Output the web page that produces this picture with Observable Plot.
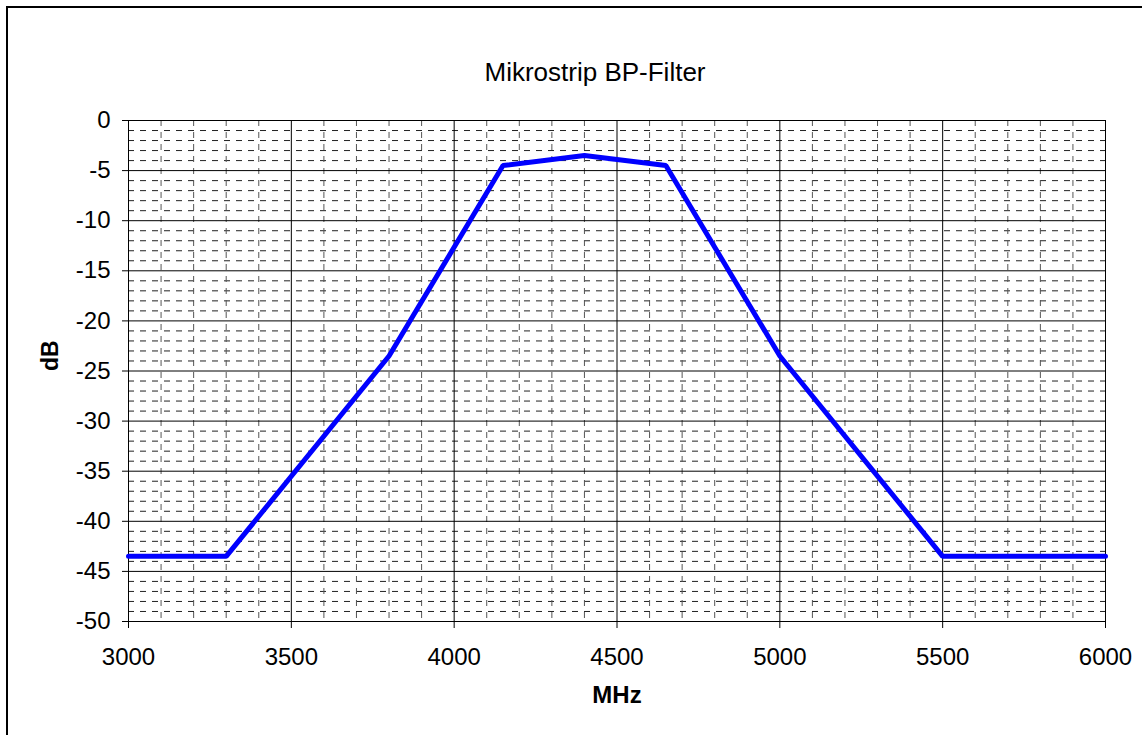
<!DOCTYPE html>
<html>
<head>
<meta charset="utf-8">
<script src="https://cdn.jsdelivr.net/npm/d3@7"></script>
<script src="https://cdn.jsdelivr.net/npm/@observablehq/plot@0.6"></script>
<style>
  html, body { margin: 0; padding: 0; background: #fff; overflow: hidden; }
  #wrap { position: relative; width: 1142px; height: 735px; overflow: hidden; }
  #frame { position: absolute; left: 6px; top: 6px; width: 1300px; height: 900px; border: 2px solid #000; box-sizing: border-box; }
  #chart { position: absolute; left: 0; top: 0; }
  svg { font-family: "Liberation Sans", Arial, sans-serif; }
</style>
</head>
<body>
<div id="wrap"><div id="frame"></div><div id="chart"></div></div>
<script>
const title = "Mikrostrip BP-Filter";
const xLabel = "MHz";
const yLabel = "dB";
const freqMHz = [3000, 3300, 3800, 4150, 4400, 4650, 5000, 5500, 6000];
const gainDB = [-43.5, -43.5, -23.5, -4.5, -3.5, -4.5, -23.5, -43.5, -43.5];
const xTicks = [3000, 3500, 4000, 4500, 5000, 5500, 6000];
const yTicks = [0, -5, -10, -15, -20, -25, -30, -35, -40, -45, -50];

const data = freqMHz.map((f, i) => ({f, g: gainDB[i]}));
const xMinor = d3.range(3100, 6000, 100).filter(v => v % 500 !== 0);
const yMinor = d3.range(-49, 0, 1).filter(v => v % 5 !== 0);

const chart = Plot.plot({
  width: 1142,
  height: 735,
  marginLeft: 128,
  marginRight: 37,
  marginTop: 120,
  marginBottom: 114,
  style: {fontFamily: "'Liberation Sans', Arial, sans-serif", fontSize: "24px", color: "#000", background: "transparent"},
  x: {domain: [3000, 6000]},
  y: {domain: [-50, 0]},
  marks: [
    Plot.ruleY(yMinor, {stroke: "#222", strokeWidth: 1, strokeDasharray: "6,6"}),
    Plot.ruleX(xMinor, {stroke: "#555", strokeWidth: 1, strokeDasharray: "6,6"}),
    Plot.ruleY(yTicks, {stroke: "#000", strokeWidth: 1}),
    Plot.ruleX(xTicks, {stroke: "#000", strokeWidth: 1}),
    Plot.axisX({ticks: xTicks, tickSize: 7, tickPadding: 19, tickFormat: d => String(d), label: null, stroke: "#000", fontSize: 24}),
    Plot.axisY({ticks: yTicks, tickSize: 6, tickPadding: 12, tickFormat: d => d === 0 ? "0" : String(d), label: null, stroke: "#000", fontSize: 24}),
    Plot.line(data, {x: "f", y: "g", stroke: "#0000ff", strokeWidth: 5, strokeLinejoin: "miter"}),
    Plot.text([title], {frameAnchor: "top", dx: -22, dy: -48, lineAnchor: "middle", text: d => d, fontSize: 26, fill: "#000"}),
    Plot.text([xLabel], {frameAnchor: "bottom", dy: 74, lineAnchor: "middle", text: d => d, fontSize: 24, fontWeight: "bold", fill: "#000"}),
    Plot.text([yLabel], {frameAnchor: "left", dx: -78, rotate: -90, text: d => d, fontSize: 23, fontWeight: "bold", fill: "#000"})
  ]
});
document.getElementById("chart").appendChild(chart);
</script>
</body>
</html>
